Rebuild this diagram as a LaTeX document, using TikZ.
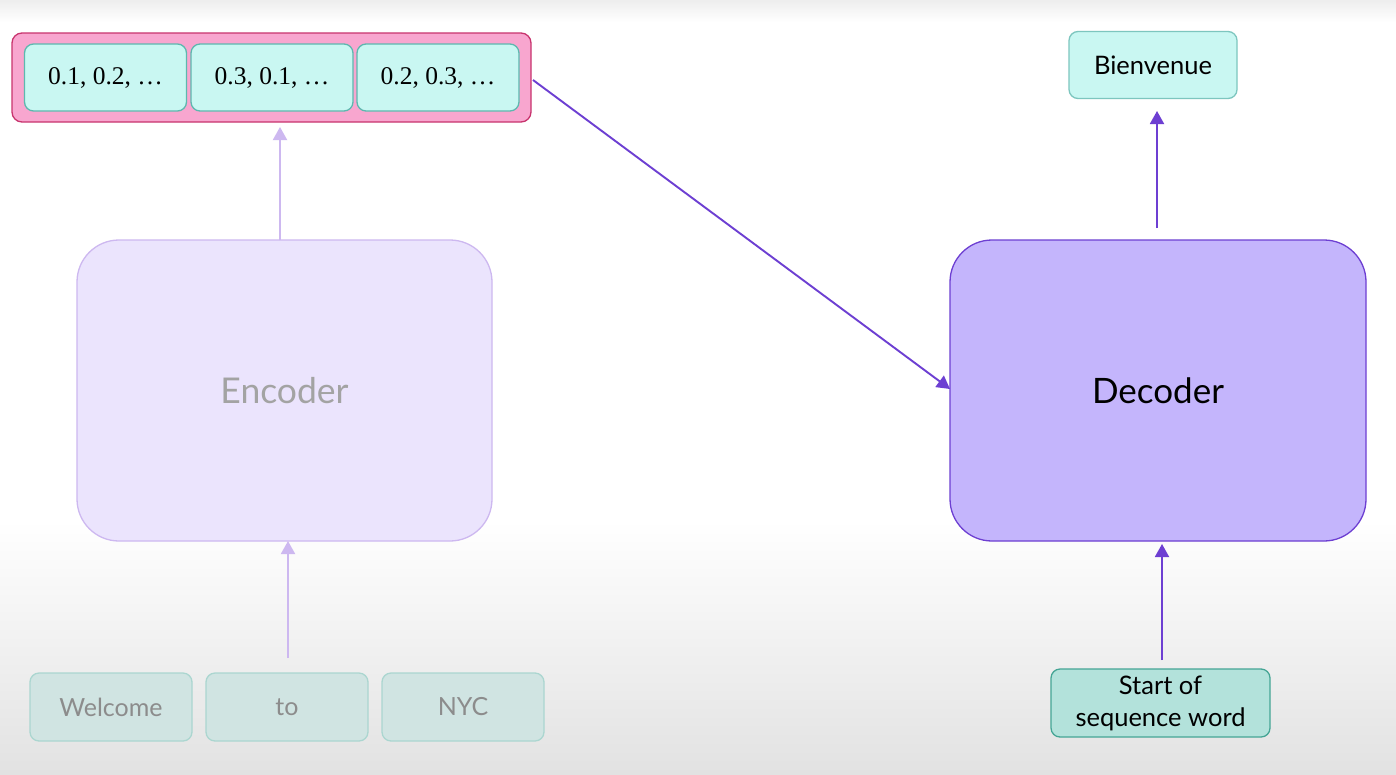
\documentclass[tikz,border=0pt]{standalone}
\usepackage{fontspec}
\setmainfont{Lato}
\newfontfamily\numfont{Liberation Serif}
\usetikzlibrary{arrows.meta}
\definecolor{pinkfill}{HTML}{F8A6CF}
\definecolor{pinkdraw}{HTML}{C8346E}
\definecolor{cyanfill}{HTML}{C9F7F2}
\definecolor{cyandraw}{HTML}{5DB8AF}
\definecolor{encfill}{HTML}{EBE4FD}
\definecolor{encdraw}{HTML}{CDB8F0}
\definecolor{enctext}{HTML}{A3A3A3}
\definecolor{decfill}{HTML}{C4B5FC}
\definecolor{decdraw}{HTML}{6D3FD2}
\definecolor{inpfill}{HTML}{D0E4E2}
\definecolor{inpdraw}{HTML}{ABD6D0}
\definecolor{inptext}{HTML}{8C8C8C}
\definecolor{sosfill}{HTML}{B3E2DB}
\definecolor{sosdraw}{HTML}{45A595}
\definecolor{bgbot}{HTML}{E2E2E2}
\begin{document}
\begin{tikzpicture}[x=1pt,y=-1pt,
  box/.style={draw,rounded corners=#1,line width=1.3pt,inner sep=0pt},
  vec/.style={box=9pt,fill=cyanfill,draw=cyandraw,minimum width=162pt,minimum height=67pt,font=\numfont\fontsize{25.5}{28}\selectfont},
  inp/.style={box=9pt,fill=inpfill,draw=inpdraw,minimum width=162pt,minimum height=68pt,text=inptext,font=\fontsize{25}{28}\selectfont},
  lightarr/.style={draw=encdraw,line width=1.9pt,-{Triangle[width=14pt,length=13pt]}},
  darkarr/.style={draw=decdraw,line width=1.9pt,-{Triangle[width=14pt,length=13pt]}}
]
\useasboundingbox (0,0) rectangle (1396,774);
\fill[white] (0,0) rectangle (1396,774);
\shade[top color=white,bottom color=bgbot] (0,520) rectangle (1396,774);
\shade[top color=bgbot!60,bottom color=white] (0,0) rectangle (1396,22);

% embedding container
\node[box=10pt,fill=pinkfill,draw=pinkdraw,minimum width=519pt,minimum height=89pt] (emb) at (271.5,77.5) {};
\node[vec] (v1) at (105.5,77.5) {0.1, 0.2, \dots};
\node[vec] (v2) at (272,77.5) {0.3, 0.1, \dots};
\node[vec] (v3) at (438,77.5) {0.2, 0.3, \dots};

% encoder
\node[box=42pt,fill=encfill,draw=encdraw,minimum width=415pt,minimum height=301pt,text=enctext,font=\fontsize{35.5}{40}\selectfont] (enc) at (284.5,390.5) {Encoder};
% decoder
\node[box=42pt,fill=decfill,draw=decdraw,minimum width=416pt,minimum height=301pt,text=black,font=\fontsize{35}{40}\selectfont] (dec) at (1158,390.5) {Decoder};

% output
\node[box=9pt,fill=cyanfill,draw=cyandraw!80,minimum width=168pt,minimum height=67pt,font=\fontsize{25.5}{28}\selectfont] (out) at (1153,65) {Bienvenue};

% inputs
\node[inp] (w1) at (111,707) {Welcome};
\node[inp] (w2) at (287,707) {to};
\node[inp] (w3) at (463,707) {NYC};

\node[box=9pt,fill=sosfill,draw=sosdraw,minimum width=219pt,minimum height=68pt,align=center,font=\fontsize{25.5}{32}\selectfont] (sos) at (1160.5,703) {Start of\\sequence word};

% connectors
\coordinate (encTop) at (280,240);
\coordinate (embBot) at (280,127);
\draw[lightarr] (encTop) -- (embBot);
\coordinate (inTop) at (288,658);
\coordinate (encBot) at (288,541);
\draw[lightarr] (inTop) -- (encBot);
\coordinate (embRight) at (533,80);
\coordinate (decLeft) at (950,389);
\draw[darkarr] (embRight) -- (decLeft);
\coordinate (decTop) at (1157,228);
\coordinate (outBot) at (1157,111);
\draw[darkarr] (decTop) -- (outBot);
\coordinate (sosTop) at (1162,660);
\coordinate (decBot) at (1162,544);
\draw[darkarr] (sosTop) -- (decBot);
\end{tikzpicture}
\end{document}
